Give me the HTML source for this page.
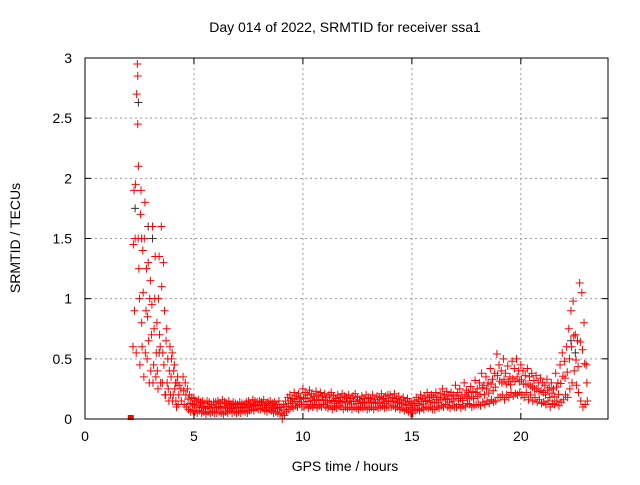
<!DOCTYPE html>
<html><head><meta charset="utf-8"><style>
body{margin:0;background:#fff}
svg text{font-family:"Liberation Sans",sans-serif;font-size:14px;fill:#000}
</style></head><body>
<svg id="chart" width="640" height="480" xmlns="http://www.w3.org/2000/svg">
<rect x="0" y="0" width="640" height="480" fill="#fff"/>
<g id="grid"></g>
<g id="marks"></g>
<rect x="85" y="58" width="523" height="361" fill="none" stroke="#000" stroke-width="1"/>
<g id="ticks"></g>
<text x="345" y="32" text-anchor="middle">Day 014 of 2022, SRMTID for receiver ssa1</text>
<text x="345" y="471" text-anchor="middle">GPS time / hours</text>
<text x="20" y="238" text-anchor="middle" transform="rotate(-90 20 238)">SRMTID / TECUs</text>
</svg>
<script>
const xTicks=[0,5,10,15,20];
const yTicks=[0,0.5,1,1.5,2,2.5,3];
const yTickLabels=["0","0.5","1","1.5","2","2.5","3"];
const earlyTimes=[2.2,2.25,2.3,2.35,2.4,2.42,2.45,2.5,2.55,2.6,2.65,2.7,2.75,2.8,2.85,2.9,2.95,3.0,3.05,3.1,3.15,3.2,3.25,3.3,3.35,3.4,3.45,3.5,3.55,3.6,3.65,3.7,3.75,3.8,3.85,3.9,3.95,4.0,4.05,4.1,4.15,4.2,4.25,4.3,4.4];
const earlyA=[0.6,1.9,1.5,0.55,2.95,2.45,2.1,1.0,1.7,0.8,1.4,0.35,1.8,0.9,0.5,1.3,0.3,1.15,0.7,1.6,0.45,1.0,0.35,0.8,0.25,1.35,0.6,1.6,0.3,1.3,0.9,0.2,0.75,0.5,0.15,0.6,0.35,0.55,0.2,0.45,0.3,0.1,0.35,0.2,0.25];
const earlyB=[1.45,0.9,1.95,2.7,2.85,1.5,1.25,0.45,1.9,0.6,1.05,1.5,0.55,1.25,0.85,0.65,1.0,0.4,0.95,0.3,0.75,1.35,0.55,0.4,1.0,0.7,0.3,1.1,0.55,0.45,0.2,0.65,0.3,0.25,0.4,0.2,0.5,0.15,0.4,0.25,0.15,0.3,0.12,0.28,0.15];
const tStart=4.5, tStep=0.1;
const hiVals=[0.35,0.3,0.25,0.2,0.18,
0.17,0.15,0.16,0.14,0.15,0.13,0.15,0.14,0.12,0.14,
0.14,0.15,0.13,0.16,0.14,0.13,0.15,0.12,0.14,0.13,
0.12,0.14,0.13,0.12,0.14,0.15,0.13,0.16,0.15,0.14,
0.15,0.14,0.16,0.13,0.14,0.15,0.13,0.14,0.12,0.15,
0.1,0.12,0.15,0.18,0.2,0.17,0.22,0.19,0.21,0.18,
0.25,0.22,0.2,0.24,0.21,0.19,0.23,0.2,0.22,0.19,
0.21,0.18,0.2,0.22,0.19,0.17,0.2,0.18,0.21,0.19,
0.18,0.2,0.17,0.19,0.21,0.18,0.16,0.19,0.17,0.2,
0.18,0.17,0.2,0.16,0.19,0.18,0.21,0.17,0.19,0.2,
0.2,0.18,0.21,0.17,0.19,0.16,0.18,0.15,0.17,0.14,
0.13,0.15,0.18,0.16,0.2,0.17,0.19,0.22,0.18,0.2,
0.19,0.22,0.18,0.21,0.25,0.2,0.23,0.19,0.22,0.2,
0.28,0.22,0.25,0.2,0.3,0.24,0.22,0.27,0.23,0.32,
0.25,0.3,0.38,0.28,0.35,0.3,0.42,0.33,0.38,0.54,
0.45,0.4,0.5,0.38,0.44,0.35,0.48,0.42,0.5,0.4,
0.45,0.4,0.36,0.42,0.35,0.38,0.32,0.36,0.3,0.34,
0.3,0.28,0.33,0.26,0.3,0.25,0.38,0.3,0.45,0.55,
0.48,0.6,0.75,0.9,0.98,0.7,0.65,1.13,1.05,0.8,
0.45];
const loVals=[0.12,0.1,0.08,0.06,0.07,
0.06,0.05,0.07,0.05,0.06,0.04,0.06,0.05,0.06,0.05,
0.05,0.06,0.05,0.04,0.06,0.05,0.07,0.05,0.06,0.05,
0.06,0.05,0.07,0.06,0.05,0.07,0.08,0.07,0.09,0.08,
0.08,0.09,0.07,0.06,0.08,0.07,0.05,0.06,0.05,0.04,
0.0,0.03,0.06,0.08,0.1,0.09,0.11,0.1,0.12,0.1,
0.1,0.12,0.09,0.11,0.1,0.12,0.09,0.11,0.1,0.12,
0.1,0.09,0.11,0.08,0.1,0.09,0.11,0.1,0.08,0.1,
0.09,0.1,0.08,0.1,0.09,0.08,0.1,0.09,0.1,0.08,
0.09,0.1,0.08,0.1,0.09,0.1,0.11,0.09,0.1,0.1,
0.1,0.11,0.09,0.1,0.08,0.09,0.07,0.08,0.06,0.05,
0.05,0.07,0.08,0.07,0.09,0.08,0.1,0.09,0.1,0.08,
0.08,0.1,0.09,0.11,0.1,0.12,0.1,0.09,0.11,0.1,
0.1,0.12,0.09,0.11,0.1,0.13,0.12,0.1,0.11,0.12,
0.12,0.11,0.14,0.12,0.15,0.13,0.16,0.14,0.15,0.18,
0.18,0.2,0.16,0.2,0.18,0.22,0.19,0.21,0.2,0.22,
0.2,0.18,0.22,0.16,0.2,0.15,0.18,0.14,0.16,0.13,
0.14,0.12,0.15,0.1,0.13,0.12,0.15,0.11,0.14,0.16,
0.2,0.18,0.25,0.3,0.4,0.28,0.22,0.15,0.1,0.12,
0.15];
const blackTimes=[2.3,2.45,2.6,2.9,3.1,3.4,22.3,22.5];
const blackVals=[1.75,2.63,1.5,1.6,1.5,0.55,0.65,0.55];

const X=v=>85+v*(523/24);
const Y=v=>419-v*(361/3);
const NS="http://www.w3.org/2000/svg";
const grid=document.getElementById('grid'),marks=document.getElementById('marks'),ticks=document.getElementById('ticks');
function mk(tag,attrs,parent){const e=document.createElementNS(NS,tag);for(const k in attrs)e.setAttribute(k,attrs[k]);parent.appendChild(e);return e;}
xTicks.forEach(t=>{
  if(t>0){const g=mk('line',{x1:X(t),x2:X(t),y1:58,y2:419,stroke:'#999','stroke-dasharray':'2,3'},grid);
  
  }
  mk('line',{x1:X(t),x2:X(t),y1:419,y2:413,stroke:'#000'},ticks);
  mk('line',{x1:X(t),x2:X(t),y1:58,y2:64,stroke:'#000'},ticks);
  const l=mk('text',{x:X(t),y:441,'text-anchor':'middle'},ticks);l.textContent=String(t);
  
  
});
yTicks.forEach((t,i)=>{
  if(t>0&&t<3){const g=mk('line',{x1:85,x2:608,y1:Y(t),y2:Y(t),stroke:'#999','stroke-dasharray':'2,3'},grid);
  
  }
  mk('line',{x1:85,x2:91,y1:Y(t),y2:Y(t),stroke:'#000'},ticks);
  mk('line',{x1:608,x2:602,y1:Y(t),y2:Y(t),stroke:'#000'},ticks);
  const l=mk('text',{x:72,y:Y(t)+5,'text-anchor':'end'},ticks);l.textContent=yTickLabels[i];
  
  
});
function plus(t,v,c){
  const x=X(t),y=Y(v);
  const p=mk('path',{d:`M${x-4},${y}H${x+4}M${x},${y-4}V${y+4}`,stroke:c,'stroke-width':1,fill:'none'},marks);
  
  
}
blackTimes.forEach((t,i)=>plus(t,blackVals[i],'#333'));
earlyTimes.forEach((t,i)=>{plus(t,earlyA[i],'#f00');plus(t+0.02,earlyB[i],'#f00');});
hiVals.forEach((v,i)=>{const t=tStart+i*tStep;plus(t,v,'#f00');plus(t+0.05,loVals[i],'#f00');plus(t+0.03,(v+loVals[i])/2,'#f00');});
const sq=mk('rect',{x:X(2.1)-3,y:Y(0)-4,width:6,height:5,fill:'#f00'},marks);


</script>
</body></html>
